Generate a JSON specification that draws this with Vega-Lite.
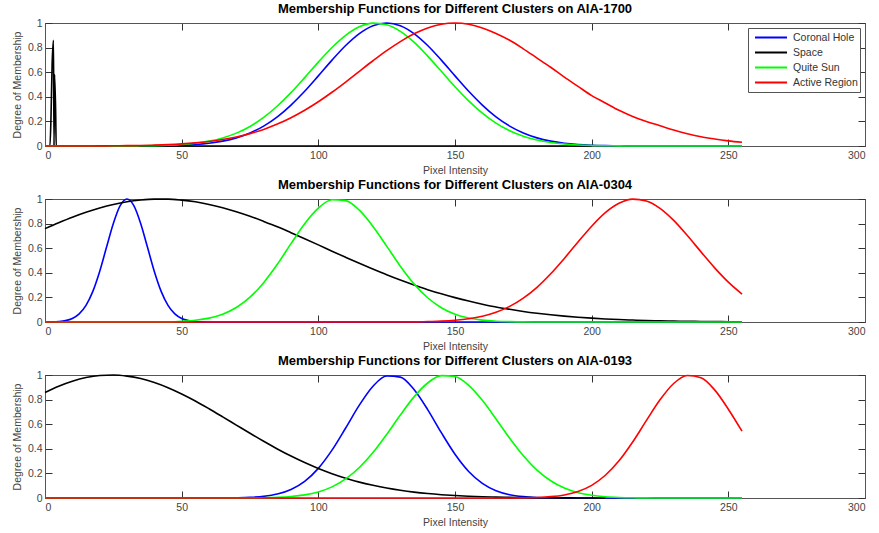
{
"$schema": "https://vega.github.io/schema/vega-lite/v6.json",
"padding": {"left": 11, "top": 2, "right": 3, "bottom": 2},
"config": {
  "font": "Liberation Sans",
  "view": {"stroke": "#555", "strokeWidth": 1},
  "title": {"fontSize": 13, "fontWeight": "bold", "color": "#000", "offset": 2, "font": "Liberation Sans", "frame": "group"},
  "axis": {"grid": false, "domainColor": "#555", "tickColor": "#333", "tickWidth": 1, "zindex": 1, "labelColor": "#444", "titleColor": "#444", "labelFontSize": 10.5, "titleFontSize": 10.5, "titleFontWeight": "normal", "tickSize": -7, "labelFont": "Liberation Sans", "titleFont": "Liberation Sans"},
  "legend": {"orient": "top-right", "offset": 5, "strokeColor": "#555", "fillColor": "#ffffff", "padding": 2, "symbolType": "stroke", "symbolSize": 1024, "symbolStrokeWidth": 2, "clipHeight": 15, "labelFontSize": 10.5, "labelColor": "#333", "labelOffset": 5, "symbolOffset": 4, "rowPadding": 0, "labelFont": "Liberation Sans"},
  "concat": {"spacing": 1}
},
"datasets": {
"p1": [
{"x":0,"y":0,"c":"Coronal Hole"},{"x":35,"y":0,"c":"Coronal Hole"},{"x":40,"y":0.0015,"c":"Coronal Hole"},{"x":45,"y":0.0032,"c":"Coronal Hole"},{"x":50,"y":0.0064,"c":"Coronal Hole"},{"x":55,"y":0.0123,"c":"Coronal Hole"},{"x":60,"y":0.0224,"c":"Coronal Hole"},{"x":65,"y":0.0394,"c":"Coronal Hole"},{"x":70,"y":0.066,"c":"Coronal Hole"},{"x":75,"y":0.106,"c":"Coronal Hole"},{"x":80,"y":0.162,"c":"Coronal Hole"},{"x":85,"y":0.237,"c":"Coronal Hole"},{"x":90,"y":0.333,"c":"Coronal Hole"},{"x":95,"y":0.445,"c":"Coronal Hole"},{"x":100,"y":0.57,"c":"Coronal Hole"},{"x":105,"y":0.698,"c":"Coronal Hole"},{"x":110,"y":0.817,"c":"Coronal Hole"},{"x":115,"y":0.914,"c":"Coronal Hole"},{"x":120,"y":0.978,"c":"Coronal Hole"},{"x":125,"y":1,"c":"Coronal Hole"},{"x":130,"y":0.978,"c":"Coronal Hole"},{"x":135,"y":0.914,"c":"Coronal Hole"},{"x":140,"y":0.817,"c":"Coronal Hole"},{"x":145,"y":0.698,"c":"Coronal Hole"},{"x":150,"y":0.57,"c":"Coronal Hole"},{"x":155,"y":0.445,"c":"Coronal Hole"},{"x":160,"y":0.333,"c":"Coronal Hole"},{"x":165,"y":0.237,"c":"Coronal Hole"},{"x":170,"y":0.162,"c":"Coronal Hole"},{"x":175,"y":0.106,"c":"Coronal Hole"},{"x":180,"y":0.066,"c":"Coronal Hole"},{"x":185,"y":0.0394,"c":"Coronal Hole"},{"x":190,"y":0.0224,"c":"Coronal Hole"},{"x":195,"y":0.0123,"c":"Coronal Hole"},{"x":200,"y":0.0064,"c":"Coronal Hole"},{"x":205,"y":0.0032,"c":"Coronal Hole"},{"x":210,"y":0.0015,"c":"Coronal Hole"},{"x":215,"y":0,"c":"Coronal Hole"},{"x":255,"y":0,"c":"Coronal Hole"},
{"x":0,"y":0,"c":"Space"},{"x":1.8,"y":0,"c":"Space"},{"x":2.2,"y":0.24,"c":"Space"},{"x":2.6,"y":0.66,"c":"Space"},{"x":3.1,"y":0.86,"c":"Space"},{"x":3.3,"y":0,"c":"Space"},{"x":3.5,"y":0.58,"c":"Space"},{"x":3.9,"y":0.28,"c":"Space"},{"x":4.1,"y":0,"c":"Space"},{"x":200,"y":0,"c":"Space"},
{"x":0,"y":0,"c":"Quite Sun"},{"x":30,"y":0,"c":"Quite Sun"},{"x":35,"y":0.0016,"c":"Quite Sun"},{"x":40,"y":0.0034,"c":"Quite Sun"},{"x":45,"y":0.0066,"c":"Quite Sun"},{"x":50,"y":0.0126,"c":"Quite Sun"},{"x":55,"y":0.0228,"c":"Quite Sun"},{"x":60,"y":0.0396,"c":"Quite Sun"},{"x":65,"y":0.0657,"c":"Quite Sun"},{"x":70,"y":0.1046,"c":"Quite Sun"},{"x":75,"y":0.159,"c":"Quite Sun"},{"x":80,"y":0.232,"c":"Quite Sun"},{"x":85,"y":0.325,"c":"Quite Sun"},{"x":90,"y":0.434,"c":"Quite Sun"},{"x":95,"y":0.556,"c":"Quite Sun"},{"x":100,"y":0.682,"c":"Quite Sun"},{"x":105,"y":0.801,"c":"Quite Sun"},{"x":110,"y":0.9,"c":"Quite Sun"},{"x":115,"y":0.969,"c":"Quite Sun"},{"x":120,"y":0.999,"c":"Quite Sun"},{"x":125,"y":0.986,"c":"Quite Sun"},{"x":130,"y":0.932,"c":"Quite Sun"},{"x":135,"y":0.844,"c":"Quite Sun"},{"x":140,"y":0.731,"c":"Quite Sun"},{"x":145,"y":0.607,"c":"Quite Sun"},{"x":150,"y":0.482,"c":"Quite Sun"},{"x":155,"y":0.367,"c":"Quite Sun"},{"x":160,"y":0.267,"c":"Quite Sun"},{"x":165,"y":0.186,"c":"Quite Sun"},{"x":170,"y":0.124,"c":"Quite Sun"},{"x":175,"y":0.0795,"c":"Quite Sun"},{"x":180,"y":0.0488,"c":"Quite Sun"},{"x":185,"y":0.0286,"c":"Quite Sun"},{"x":190,"y":0.016,"c":"Quite Sun"},{"x":195,"y":0.0086,"c":"Quite Sun"},{"x":200,"y":0.0044,"c":"Quite Sun"},{"x":205,"y":0.0021,"c":"Quite Sun"},{"x":210,"y":0.001,"c":"Quite Sun"},{"x":215,"y":0,"c":"Quite Sun"},{"x":255,"y":0,"c":"Quite Sun"},
{"x":0,"y":0,"c":"Active Region"},{"x":15,"y":0,"c":"Active Region"},{"x":20,"y":0.001,"c":"Active Region"},{"x":25,"y":0.0017,"c":"Active Region"},{"x":30,"y":0.0028,"c":"Active Region"},{"x":35,"y":0.0045,"c":"Active Region"},{"x":40,"y":0.0072,"c":"Active Region"},{"x":45,"y":0.011,"c":"Active Region"},{"x":50,"y":0.0169,"c":"Active Region"},{"x":55,"y":0.0252,"c":"Active Region"},{"x":60,"y":0.0367,"c":"Active Region"},{"x":65,"y":0.0524,"c":"Active Region"},{"x":70,"y":0.0734,"c":"Active Region"},{"x":75,"y":0.1007,"c":"Active Region"},{"x":80,"y":0.135,"c":"Active Region"},{"x":85,"y":0.178,"c":"Active Region"},{"x":90,"y":0.23,"c":"Active Region"},{"x":95,"y":0.291,"c":"Active Region"},{"x":100,"y":0.36,"c":"Active Region"},{"x":105,"y":0.437,"c":"Active Region"},{"x":110,"y":0.52,"c":"Active Region"},{"x":115,"y":0.607,"c":"Active Region"},{"x":120,"y":0.693,"c":"Active Region"},{"x":125,"y":0.775,"c":"Active Region"},{"x":130,"y":0.849,"c":"Active Region"},{"x":135,"y":0.912,"c":"Active Region"},{"x":140,"y":0.96,"c":"Active Region"},{"x":145,"y":0.99,"c":"Active Region"},{"x":150,"y":1,"c":"Active Region"},{"x":155,"y":0.99,"c":"Active Region"},{"x":160,"y":0.96,"c":"Active Region"},{"x":165,"y":0.915,"c":"Active Region"},{"x":170,"y":0.86,"c":"Active Region"},{"x":175,"y":0.79,"c":"Active Region"},{"x":180,"y":0.715,"c":"Active Region"},{"x":185,"y":0.64,"c":"Active Region"},{"x":190,"y":0.56,"c":"Active Region"},{"x":195,"y":0.485,"c":"Active Region"},{"x":200,"y":0.41,"c":"Active Region"},{"x":205,"y":0.35,"c":"Active Region"},{"x":210,"y":0.29,"c":"Active Region"},{"x":215,"y":0.24,"c":"Active Region"},{"x":220,"y":0.2,"c":"Active Region"},{"x":225,"y":0.165,"c":"Active Region"},{"x":230,"y":0.13,"c":"Active Region"},{"x":235,"y":0.1,"c":"Active Region"},{"x":240,"y":0.075,"c":"Active Region"},{"x":245,"y":0.057,"c":"Active Region"},{"x":250,"y":0.042,"c":"Active Region"},{"x":255,"y":0.03,"c":"Active Region"}
],
"p2": [
{"x":0,"y":0.0003,"c":"Coronal Hole"},{"x":2.5,"y":0.0012,"c":"Coronal Hole"},{"x":5,"y":0.0039,"c":"Coronal Hole"},{"x":7.5,"y":0.0111,"c":"Coronal Hole"},{"x":10,"y":0.0286,"c":"Coronal Hole"},{"x":12.5,"y":0.0658,"c":"Coronal Hole"},{"x":15,"y":0.135,"c":"Coronal Hole"},{"x":17.5,"y":0.249,"c":"Coronal Hole"},{"x":20,"y":0.411,"c":"Coronal Hole"},{"x":22.5,"y":0.607,"c":"Coronal Hole"},{"x":25,"y":0.801,"c":"Coronal Hole"},{"x":27.5,"y":0.946,"c":"Coronal Hole"},{"x":30,"y":1,"c":"Coronal Hole"},{"x":32.5,"y":0.946,"c":"Coronal Hole"},{"x":35,"y":0.801,"c":"Coronal Hole"},{"x":37.5,"y":0.607,"c":"Coronal Hole"},{"x":40,"y":0.411,"c":"Coronal Hole"},{"x":42.5,"y":0.249,"c":"Coronal Hole"},{"x":45,"y":0.135,"c":"Coronal Hole"},{"x":47.5,"y":0.0658,"c":"Coronal Hole"},{"x":50,"y":0.0286,"c":"Coronal Hole"},{"x":52.5,"y":0.0111,"c":"Coronal Hole"},{"x":55,"y":0.0039,"c":"Coronal Hole"},{"x":57.5,"y":0.0012,"c":"Coronal Hole"},{"x":60,"y":0.0003,"c":"Coronal Hole"},{"x":65,"y":0,"c":"Coronal Hole"},{"x":255,"y":0,"c":"Coronal Hole"},
{"x":0,"y":0.759,"c":"Space"},{"x":5,"y":0.807,"c":"Space"},{"x":10,"y":0.852,"c":"Space"},{"x":15,"y":0.892,"c":"Space"},{"x":20,"y":0.927,"c":"Space"},{"x":25,"y":0.956,"c":"Space"},{"x":30,"y":0.978,"c":"Space"},{"x":35,"y":0.992,"c":"Space"},{"x":40,"y":0.999,"c":"Space"},{"x":45,"y":0.999,"c":"Space"},{"x":50,"y":0.991,"c":"Space"},{"x":55,"y":0.977,"c":"Space"},{"x":60,"y":0.956,"c":"Space"},{"x":65,"y":0.929,"c":"Space"},{"x":70,"y":0.897,"c":"Space"},{"x":75,"y":0.86,"c":"Space"},{"x":80,"y":0.818,"c":"Space"},{"x":85,"y":0.774,"c":"Space"},{"x":90,"y":0.726,"c":"Space"},{"x":95,"y":0.677,"c":"Space"},{"x":100,"y":0.627,"c":"Space"},{"x":105,"y":0.576,"c":"Space"},{"x":110,"y":0.526,"c":"Space"},{"x":115,"y":0.477,"c":"Space"},{"x":120,"y":0.43,"c":"Space"},{"x":125,"y":0.384,"c":"Space"},{"x":130,"y":0.341,"c":"Space"},{"x":135,"y":0.301,"c":"Space"},{"x":140,"y":0.263,"c":"Space"},{"x":145,"y":0.229,"c":"Space"},{"x":150,"y":0.198,"c":"Space"},{"x":155,"y":0.17,"c":"Space"},{"x":160,"y":0.145,"c":"Space"},{"x":165,"y":0.122,"c":"Space"},{"x":170,"y":0.103,"c":"Space"},{"x":175,"y":0.0857,"c":"Space"},{"x":180,"y":0.071,"c":"Space"},{"x":185,"y":0.0584,"c":"Space"},{"x":190,"y":0.0477,"c":"Space"},{"x":195,"y":0.0387,"c":"Space"},{"x":200,"y":0.0312,"c":"Space"},{"x":205,"y":0.025,"c":"Space"},{"x":210,"y":0.0198,"c":"Space"},{"x":215,"y":0.0157,"c":"Space"},{"x":220,"y":0.0123,"c":"Space"},{"x":225,"y":0.0096,"c":"Space"},{"x":230,"y":0.0074,"c":"Space"},{"x":235,"y":0.0057,"c":"Space"},{"x":240,"y":0.0043,"c":"Space"},{"x":245,"y":0.0033,"c":"Space"},{"x":250,"y":0.0025,"c":"Space"},{"x":255,"y":0.0018,"c":"Space"},
{"x":0,"y":0,"c":"Quite Sun"},{"x":45,"y":0,"c":"Quite Sun"},{"x":50,"y":0.0062,"c":"Quite Sun"},{"x":55,"y":0.0146,"c":"Quite Sun"},{"x":60,"y":0.0317,"c":"Quite Sun"},{"x":65,"y":0.0635,"c":"Quite Sun"},{"x":70,"y":0.1178,"c":"Quite Sun"},{"x":75,"y":0.202,"c":"Quite Sun"},{"x":80,"y":0.32,"c":"Quite Sun"},{"x":85,"y":0.469,"c":"Quite Sun"},{"x":90,"y":0.637,"c":"Quite Sun"},{"x":95,"y":0.799,"c":"Quite Sun"},{"x":100,"y":0.926,"c":"Quite Sun"},{"x":105,"y":0.994,"c":"Quite Sun"},{"x":110,"y":0.987,"c":"Quite Sun"},{"x":115,"y":0.909,"c":"Quite Sun"},{"x":120,"y":0.777,"c":"Quite Sun"},{"x":125,"y":0.617,"c":"Quite Sun"},{"x":130,"y":0.454,"c":"Quite Sun"},{"x":135,"y":0.31,"c":"Quite Sun"},{"x":140,"y":0.197,"c":"Quite Sun"},{"x":145,"y":0.116,"c":"Quite Sun"},{"x":150,"y":0.063,"c":"Quite Sun"},{"x":155,"y":0.032,"c":"Quite Sun"},{"x":160,"y":0.015,"c":"Quite Sun"},{"x":165,"y":0.0066,"c":"Quite Sun"},{"x":170,"y":0.0027,"c":"Quite Sun"},{"x":175,"y":0.001,"c":"Quite Sun"},{"x":180,"y":0,"c":"Quite Sun"},{"x":255,"y":0,"c":"Quite Sun"},
{"x":0,"y":0,"c":"Active Region"},{"x":135,"y":0,"c":"Active Region"},{"x":140,"y":0.0036,"c":"Active Region"},{"x":145,"y":0.0073,"c":"Active Region"},{"x":150,"y":0.0143,"c":"Active Region"},{"x":155,"y":0.0265,"c":"Active Region"},{"x":160,"y":0.0469,"c":"Active Region"},{"x":165,"y":0.079,"c":"Active Region"},{"x":170,"y":0.127,"c":"Active Region"},{"x":175,"y":0.194,"c":"Active Region"},{"x":180,"y":0.282,"c":"Active Region"},{"x":185,"y":0.392,"c":"Active Region"},{"x":190,"y":0.517,"c":"Active Region"},{"x":195,"y":0.65,"c":"Active Region"},{"x":200,"y":0.779,"c":"Active Region"},{"x":205,"y":0.889,"c":"Active Region"},{"x":210,"y":0.965,"c":"Active Region"},{"x":215,"y":0.999,"c":"Active Region"},{"x":220,"y":0.984,"c":"Active Region"},{"x":225,"y":0.924,"c":"Active Region"},{"x":230,"y":0.826,"c":"Active Region"},{"x":235,"y":0.703,"c":"Active Region"},{"x":240,"y":0.57,"c":"Active Region"},{"x":245,"y":0.44,"c":"Active Region"},{"x":250,"y":0.324,"c":"Active Region"},{"x":255,"y":0.227,"c":"Active Region"}
],
"p3": [
{"x":0,"y":0,"c":"Coronal Hole"},{"x":55,"y":0,"c":"Coronal Hole"},{"x":60,"y":0.0002,"c":"Coronal Hole"},{"x":65,"y":0.0005,"c":"Coronal Hole"},{"x":70,"y":0.0018,"c":"Coronal Hole"},{"x":75,"y":0.0051,"c":"Coronal Hole"},{"x":80,"y":0.0134,"c":"Coronal Hole"},{"x":85,"y":0.0319,"c":"Coronal Hole"},{"x":90,"y":0.069,"c":"Coronal Hole"},{"x":95,"y":0.135,"c":"Coronal Hole"},{"x":100,"y":0.241,"c":"Coronal Hole"},{"x":105,"y":0.389,"c":"Coronal Hole"},{"x":110,"y":0.569,"c":"Coronal Hole"},{"x":115,"y":0.755,"c":"Coronal Hole"},{"x":120,"y":0.909,"c":"Coronal Hole"},{"x":125,"y":0.992,"c":"Coronal Hole"},{"x":130,"y":0.983,"c":"Coronal Hole"},{"x":135,"y":0.882,"c":"Coronal Hole"},{"x":140,"y":0.719,"c":"Coronal Hole"},{"x":145,"y":0.531,"c":"Coronal Hole"},{"x":150,"y":0.356,"c":"Coronal Hole"},{"x":155,"y":0.216,"c":"Coronal Hole"},{"x":160,"y":0.119,"c":"Coronal Hole"},{"x":165,"y":0.0596,"c":"Coronal Hole"},{"x":170,"y":0.027,"c":"Coronal Hole"},{"x":175,"y":0.0111,"c":"Coronal Hole"},{"x":180,"y":0.0041,"c":"Coronal Hole"},{"x":185,"y":0.0014,"c":"Coronal Hole"},{"x":190,"y":0.0004,"c":"Coronal Hole"},{"x":195,"y":0,"c":"Coronal Hole"},{"x":255,"y":0,"c":"Coronal Hole"},
{"x":0,"y":0.858,"c":"Space"},{"x":5,"y":0.909,"c":"Space"},{"x":10,"y":0.949,"c":"Space"},{"x":15,"y":0.979,"c":"Space"},{"x":20,"y":0.996,"c":"Space"},{"x":25,"y":1,"c":"Space"},{"x":30,"y":0.991,"c":"Space"},{"x":35,"y":0.971,"c":"Space"},{"x":40,"y":0.939,"c":"Space"},{"x":45,"y":0.897,"c":"Space"},{"x":50,"y":0.846,"c":"Space"},{"x":55,"y":0.789,"c":"Space"},{"x":60,"y":0.726,"c":"Space"},{"x":65,"y":0.66,"c":"Space"},{"x":70,"y":0.593,"c":"Space"},{"x":75,"y":0.526,"c":"Space"},{"x":80,"y":0.461,"c":"Space"},{"x":85,"y":0.399,"c":"Space"},{"x":90,"y":0.341,"c":"Space"},{"x":95,"y":0.288,"c":"Space"},{"x":100,"y":0.24,"c":"Space"},{"x":105,"y":0.198,"c":"Space"},{"x":110,"y":0.161,"c":"Space"},{"x":115,"y":0.129,"c":"Space"},{"x":120,"y":0.103,"c":"Space"},{"x":125,"y":0.0806,"c":"Space"},{"x":130,"y":0.0624,"c":"Space"},{"x":135,"y":0.0477,"c":"Space"},{"x":140,"y":0.0361,"c":"Space"},{"x":145,"y":0.0269,"c":"Space"},{"x":150,"y":0.0198,"c":"Space"},{"x":155,"y":0.0144,"c":"Space"},{"x":160,"y":0.0104,"c":"Space"},{"x":165,"y":0.0074,"c":"Space"},{"x":170,"y":0.0052,"c":"Space"},{"x":175,"y":0.0036,"c":"Space"},{"x":180,"y":0.0025,"c":"Space"},{"x":185,"y":0.0017,"c":"Space"},{"x":190,"y":0.0011,"c":"Space"},{"x":195,"y":0.0006,"c":"Space"},{"x":205,"y":0,"c":"Space"},
{"x":0,"y":0,"c":"Quite Sun"},{"x":75,"y":0,"c":"Quite Sun"},{"x":80,"y":0.0022,"c":"Quite Sun"},{"x":85,"y":0.0053,"c":"Quite Sun"},{"x":90,"y":0.012,"c":"Quite Sun"},{"x":95,"y":0.0251,"c":"Quite Sun"},{"x":100,"y":0.0493,"c":"Quite Sun"},{"x":105,"y":0.0904,"c":"Quite Sun"},{"x":110,"y":0.155,"c":"Quite Sun"},{"x":115,"y":0.248,"c":"Quite Sun"},{"x":120,"y":0.37,"c":"Quite Sun"},{"x":125,"y":0.517,"c":"Quite Sun"},{"x":130,"y":0.675,"c":"Quite Sun"},{"x":135,"y":0.822,"c":"Quite Sun"},{"x":140,"y":0.935,"c":"Quite Sun"},{"x":145,"y":0.995,"c":"Quite Sun"},{"x":150,"y":0.988,"c":"Quite Sun"},{"x":155,"y":0.916,"c":"Quite Sun"},{"x":160,"y":0.794,"c":"Quite Sun"},{"x":165,"y":0.643,"c":"Quite Sun"},{"x":170,"y":0.486,"c":"Quite Sun"},{"x":175,"y":0.344,"c":"Quite Sun"},{"x":180,"y":0.227,"c":"Quite Sun"},{"x":185,"y":0.14,"c":"Quite Sun"},{"x":190,"y":0.0805,"c":"Quite Sun"},{"x":195,"y":0.0433,"c":"Quite Sun"},{"x":200,"y":0.0218,"c":"Quite Sun"},{"x":205,"y":0.0102,"c":"Quite Sun"},{"x":210,"y":0.0045,"c":"Quite Sun"},{"x":215,"y":0.0018,"c":"Quite Sun"},{"x":220,"y":0.0007,"c":"Quite Sun"},{"x":225,"y":0,"c":"Quite Sun"},{"x":255,"y":0,"c":"Quite Sun"},
{"x":0,"y":0,"c":"Active Region"},{"x":165,"y":0,"c":"Active Region"},{"x":170,"y":0.0005,"c":"Active Region"},{"x":175,"y":0.0016,"c":"Active Region"},{"x":180,"y":0.0043,"c":"Active Region"},{"x":185,"y":0.0109,"c":"Active Region"},{"x":190,"y":0.0251,"c":"Active Region"},{"x":195,"y":0.0532,"c":"Active Region"},{"x":200,"y":0.103,"c":"Active Region"},{"x":205,"y":0.185,"c":"Active Region"},{"x":210,"y":0.302,"c":"Active Region"},{"x":215,"y":0.455,"c":"Active Region"},{"x":220,"y":0.629,"c":"Active Region"},{"x":225,"y":0.798,"c":"Active Region"},{"x":230,"y":0.931,"c":"Active Region"},{"x":235,"y":0.996,"c":"Active Region"},{"x":240,"y":0.978,"c":"Active Region"},{"x":245,"y":0.879,"c":"Active Region"},{"x":250,"y":0.722,"c":"Active Region"},{"x":255,"y":0.543,"c":"Active Region"}
]
},
"vconcat": [
{
 "width": 820, "height": 123,
 "title": "Membership Functions for Different Clusters on AIA-1700",
 "data": {"name": "p1"},
 "layer": [
  {"mark": {"type": "line", "strokeWidth": 1.6, "interpolate": "monotone"},
   "encoding": {
    "x": {"field": "x", "type": "quantitative", "scale": {"domain": [0, 300], "nice": false}, "axis": {"values": [0,50,100,150,200,250,300], "title": "Pixel Intensity", "labelPadding": 11, "titlePadding": 5}},
    "y": {"field": "y", "type": "quantitative", "scale": {"domain": [0, 1], "nice": false}, "axis": {"values": [0,0.2,0.4,0.6,0.8,1], "format": "~g", "title": "Degree of Membership", "labelPadding": 10, "titlePadding": 5}},
    "color": {"field": "c", "type": "nominal", "scale": {"domain": ["Coronal Hole","Space","Quite Sun","Active Region"], "range": ["#0000ff","#000000","#00ff00","#ff0000"]}, "legend": {"title": null}}
   }},
  {"mark": {"type": "point", "opacity": 0},
   "encoding": {
    "x": {"field": "x", "type": "quantitative", "axis": {"orient": "top", "values": [0,50,100,150,200,250,300], "labels": false, "title": null}},
    "y": {"field": "y", "type": "quantitative", "axis": {"orient": "right", "values": [0,0.2,0.4,0.6,0.8,1], "labels": false, "title": null}}
   }}
 ],
 "resolve": {"axis": {"x": "independent", "y": "independent"}}
},
{
 "width": 820, "height": 123,
 "title": "Membership Functions for Different Clusters on AIA-0304",
 "data": {"name": "p2"},
 "layer": [
  {"mark": {"type": "line", "strokeWidth": 1.6, "interpolate": "monotone"},
   "encoding": {
    "x": {"field": "x", "type": "quantitative", "scale": {"domain": [0, 300], "nice": false}, "axis": {"values": [0,50,100,150,200,250,300], "title": "Pixel Intensity", "labelPadding": 11, "titlePadding": 5}},
    "y": {"field": "y", "type": "quantitative", "scale": {"domain": [0, 1], "nice": false}, "axis": {"values": [0,0.2,0.4,0.6,0.8,1], "format": "~g", "title": "Degree of Membership", "labelPadding": 10, "titlePadding": 5}},
    "color": {"field": "c", "type": "nominal", "scale": {"domain": ["Coronal Hole","Space","Quite Sun","Active Region"], "range": ["#0000ff","#000000","#00ff00","#ff0000"]}, "legend": {"title": null}}
   }},
  {"mark": {"type": "point", "opacity": 0},
   "encoding": {
    "x": {"field": "x", "type": "quantitative", "axis": {"orient": "top", "values": [0,50,100,150,200,250,300], "labels": false, "title": null}},
    "y": {"field": "y", "type": "quantitative", "axis": {"orient": "right", "values": [0,0.2,0.4,0.6,0.8,1], "labels": false, "title": null}}
   }}
 ],
 "resolve": {"axis": {"x": "independent", "y": "independent"}}
},
{
 "width": 820, "height": 123,
 "title": "Membership Functions for Different Clusters on AIA-0193",
 "data": {"name": "p3"},
 "layer": [
  {"mark": {"type": "line", "strokeWidth": 1.6, "interpolate": "monotone"},
   "encoding": {
    "x": {"field": "x", "type": "quantitative", "scale": {"domain": [0, 300], "nice": false}, "axis": {"values": [0,50,100,150,200,250,300], "title": "Pixel Intensity", "labelPadding": 11, "titlePadding": 5}},
    "y": {"field": "y", "type": "quantitative", "scale": {"domain": [0, 1], "nice": false}, "axis": {"values": [0,0.2,0.4,0.6,0.8,1], "format": "~g", "title": "Degree of Membership", "labelPadding": 10, "titlePadding": 5}},
    "color": {"field": "c", "type": "nominal", "scale": {"domain": ["Coronal Hole","Space","Quite Sun","Active Region"], "range": ["#0000ff","#000000","#00ff00","#ff0000"]}, "legend": {"title": null}}
   }},
  {"mark": {"type": "point", "opacity": 0},
   "encoding": {
    "x": {"field": "x", "type": "quantitative", "axis": {"orient": "top", "values": [0,50,100,150,200,250,300], "labels": false, "title": null}},
    "y": {"field": "y", "type": "quantitative", "axis": {"orient": "right", "values": [0,0.2,0.4,0.6,0.8,1], "labels": false, "title": null}}
   }}
 ],
 "resolve": {"axis": {"x": "independent", "y": "independent"}}
}
]
}
